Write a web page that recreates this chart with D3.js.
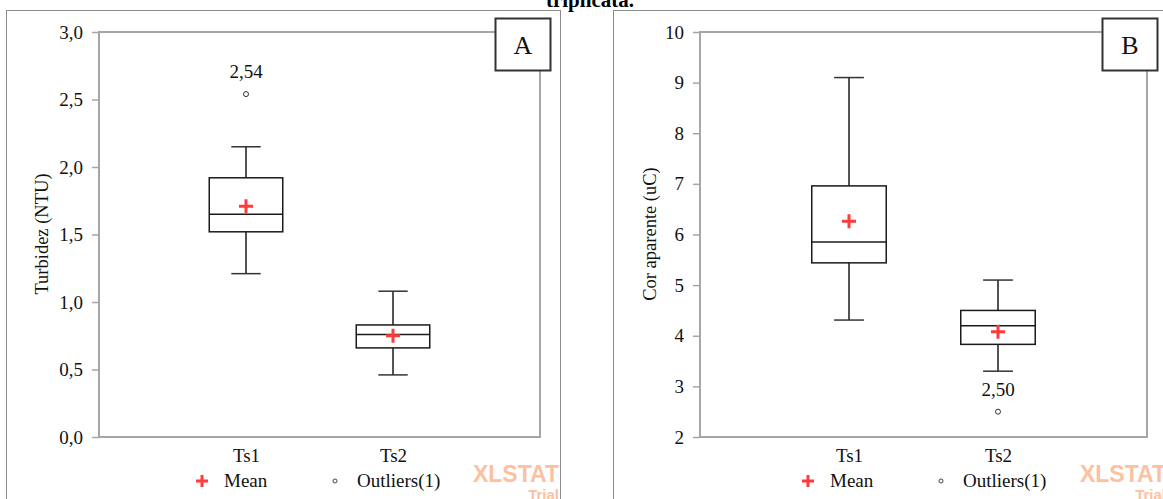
<!DOCTYPE html>
<html>
<head>
<meta charset="utf-8">
<script src="https://cdn.jsdelivr.net/npm/d3@7"></script>
<style>
  body { margin: 0; background: #fff; }
  svg { display: block; font-family: "Liberation Serif", "Times New Roman", serif; }
</style>
</head>
<body>
<svg id="chart" width="1163" height="499"></svg>
<script>
// categories shared by both panels
var categories = ["Ts1", "Ts2"];

// panel A - turbidity (NTU)
var turbMin = [1.21, 0.46];
var turbQ1 = [1.52, 0.66];
var turbMedian = [1.65, 0.76];
var turbQ3 = [1.92, 0.83];
var turbMax = [2.15, 1.08];
var turbMean = [1.71, 0.75];
var turbOutliers = [[2.54], []];
var turbTicks = [0, 0.5, 1, 1.5, 2, 2.5, 3];

// panel B - apparent colour (uC)
var corMin = [4.31, 3.30];
var corQ1 = [5.44, 3.83];
var corMedian = [5.85, 4.20];
var corQ3 = [6.96, 4.50];
var corMax = [9.10, 5.10];
var corMean = [6.26, 4.08];
var corOutliers = [[], [2.50]];
var corTicks = [2, 3, 4, 5, 6, 7, 8, 9, 10];

var svg = d3.select("#chart");
var comma = function (v, digits) { return v.toFixed(digits).replace(".", ","); };
var FS = "19px";

// title text cut off at top of the crop
svg.append("text")
  .attr("x", 590).attr("y", 7)
  .attr("text-anchor", "middle")
  .style("font-weight", "bold").style("font-size", "21px")
  .text("triplicata.");

function drawPanel(opts) {
  var g = svg.append("g");

  // outer frame
  g.append("rect")
    .attr("x", opts.frame[0] + 0.5).attr("y", 10.5)
    .attr("width", opts.frame[1] - opts.frame[0]).attr("height", 520)
    .attr("fill", "none").attr("stroke", "#8c8c8c").attr("stroke-width", 1);

  var y = d3.scaleLinear().domain(opts.domain).range([437, 32]);
  var x = d3.scalePoint().domain(categories).range([opts.left, opts.right]).padding(1);

  // plot area border
  g.append("rect")
    .attr("x", opts.left).attr("y", 32)
    .attr("width", opts.right - opts.left).attr("height", 405)
    .attr("fill", "none").attr("stroke", "#a6a6a6").attr("stroke-width", 2);

  var yAxis = d3.axisLeft(y).tickValues(opts.ticks).tickSize(7).tickPadding(9)
    .tickFormat(function (d) { return opts.fmt(d); });
  var ya = g.append("g").attr("transform", "translate(" + opts.left + ",0)").call(yAxis);
  ya.attr("font-family", null).attr("font-size", null);
  ya.select(".domain").remove();
  ya.selectAll("line").attr("stroke", "#a6a6a6").attr("stroke-width", 1.5);
  ya.selectAll("text").style("font-size", FS).attr("fill", "#111");

  var xAxis = d3.axisBottom(x).tickSize(0).tickPadding(12);
  var xa = g.append("g").attr("transform", "translate(0,437)").call(xAxis);
  xa.attr("font-family", null).attr("font-size", null);
  xa.select(".domain").remove();
  xa.selectAll("text").style("font-size", FS).attr("fill", "#111");

  // y axis title
  g.append("text")
    .attr("transform", "translate(" + opts.titleX + ",234) rotate(-90)")
    .attr("text-anchor", "middle").attr("dy", "0.35em")
    .style("font-size", "18.5px").attr("fill", "#111")
    .text(opts.title);

  var boxW = x.step() / 2, capW = x.step() / 5;
  var boxes = g.selectAll(".box").data(categories).enter().append("g").attr("class", "box");

  boxes.append("line") // whisker
    .attr("x1", function (d) { return x(d); }).attr("x2", function (d) { return x(d); })
    .attr("y1", function (d, i) { return y(opts.max[i]); })
    .attr("y2", function (d, i) { return y(opts.min[i]); })
    .attr("stroke", "#1a1a1a").attr("stroke-width", 1.5);
  [opts.max, opts.min].forEach(function (arr) {
    boxes.append("line")
      .attr("x1", function (d) { return x(d) - capW / 2; }).attr("x2", function (d) { return x(d) + capW / 2; })
      .attr("y1", function (d, i) { return y(arr[i]); }).attr("y2", function (d, i) { return y(arr[i]); })
      .attr("stroke", "#333").attr("stroke-width", 1.5);
  });
  boxes.append("rect")
    .attr("x", function (d) { return x(d) - boxW / 2; })
    .attr("y", function (d, i) { return y(opts.q3[i]); })
    .attr("width", boxW)
    .attr("height", function (d, i) { return y(opts.q1[i]) - y(opts.q3[i]); })
    .attr("fill", "#fff").attr("stroke", "#1a1a1a").attr("stroke-width", 1.5);
  boxes.append("line")
    .attr("x1", function (d) { return x(d) - boxW / 2; }).attr("x2", function (d) { return x(d) + boxW / 2; })
    .attr("y1", function (d, i) { return y(opts.median[i]); }).attr("y2", function (d, i) { return y(opts.median[i]); })
    .attr("stroke", "#1a1a1a").attr("stroke-width", 1.5);

  // mean crosses
  boxes.append("path")
    .attr("d", function (d, i) {
      var cx = x(d), cy = y(opts.mean[i]);
      return "M" + (cx - 7) + "," + cy + "H" + (cx + 7) + "M" + cx + "," + (cy - 7) + "V" + (cy + 7);
    })
    .attr("stroke", "#ff3b3b").attr("stroke-width", 3);

  // outliers with labels
  categories.forEach(function (c, i) {
    opts.outliers[i].forEach(function (v) {
      g.append("circle").attr("cx", x(c)).attr("cy", y(v)).attr("r", 2.5)
        .attr("fill", "#fff").attr("stroke", "#333").attr("stroke-width", 1);
      g.append("text").attr("x", x(c)).attr("y", y(v) - 16)
        .attr("text-anchor", "middle").style("font-size", FS).attr("fill", "#111")
        .text(comma(v, 2));
    });
  });

  // letter box
  g.append("rect")
    .attr("x", opts.right - 44.5).attr("y", 18.5).attr("width", 55).attr("height", 52)
    .attr("fill", "#fff").attr("stroke", "#333").attr("stroke-width", 2);
  g.append("text")
    .attr("x", opts.right - 44.5 + 27.5).attr("y", 54)
    .attr("text-anchor", "middle").style("font-size", "26px").attr("fill", "#111")
    .text(opts.letter);

  // legend
  var lx = opts.legendX;
  g.append("path")
    .attr("d", "M" + (lx - 6) + ",481H" + (lx + 6) + "M" + lx + ",475V487")
    .attr("stroke", "#ff3b3b").attr("stroke-width", 3);
  g.append("text").attr("x", lx + 22).attr("y", 487).style("font-size", FS).attr("fill", "#111").text("Mean");
  g.append("circle").attr("cx", lx + 133).attr("cy", 481).attr("r", 2)
    .attr("fill", "#fff").attr("stroke", "#444").attr("stroke-width", 1);
  g.append("text").attr("x", lx + 155).attr("y", 487).style("font-size", FS).attr("fill", "#111").text("Outliers(1)");

  // watermark
  g.append("text").attr("x", opts.wmX).attr("y", 482)
    .attr("text-anchor", "end")
    .style("font-family", "Liberation Sans").style("font-weight", "bold").style("font-size", "23px")
    .attr("fill", "#fbc1a0").text("XLSTAT");
  g.append("text").attr("x", opts.wmX).attr("y", 500)
    .attr("text-anchor", "end")
    .style("font-family", "Liberation Sans").style("font-weight", "bold").style("font-size", "15px")
    .attr("fill", "#fbc1a0").text("Trial");
}

drawPanel({
  frame: [6, 560], left: 99, right: 540, domain: [0, 3], ticks: turbTicks,
  fmt: function (d) { return comma(d, 1); }, title: "Turbidez (NTU)", titleX: 42,
  min: turbMin, q1: turbQ1, median: turbMedian, q3: turbQ3, max: turbMax, mean: turbMean,
  outliers: turbOutliers, letter: "A", legendX: 202, wmX: 559
});

drawPanel({
  frame: [613, 1180], left: 700, right: 1147, domain: [2, 10], ticks: corTicks,
  fmt: function (d) { return String(d); }, title: "Cor aparente (uC)", titleX: 650,
  min: corMin, q1: corQ1, median: corMedian, q3: corQ3, max: corMax, mean: corMean,
  outliers: corOutliers, letter: "B", legendX: 808, wmX: 1166
});
</script>
</body>
</html>
